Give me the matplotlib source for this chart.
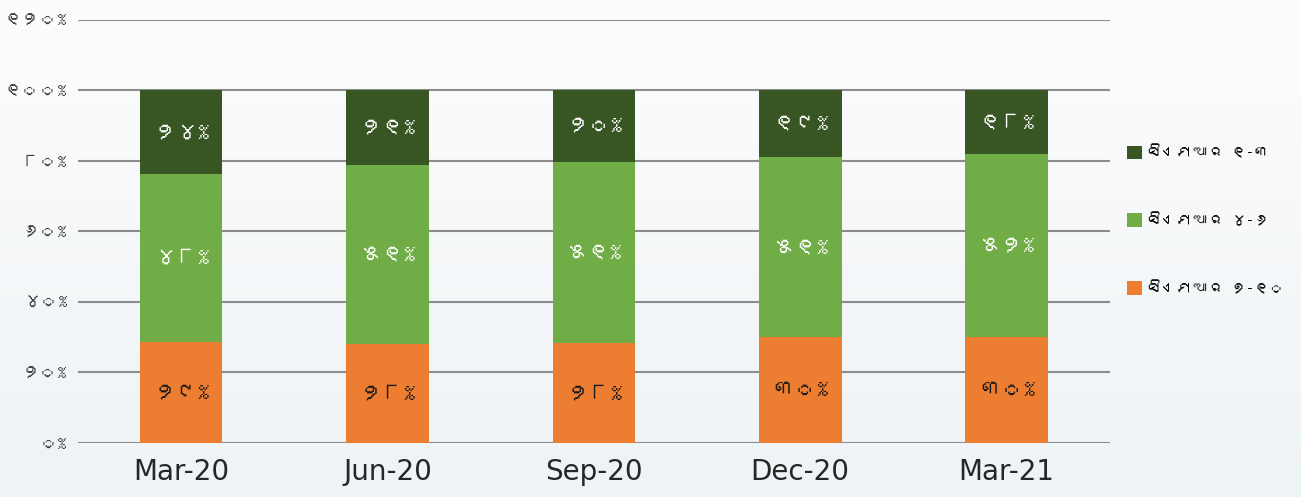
import matplotlib
matplotlib.use("Agg")
import matplotlib.pyplot as plt
import numpy as np
from matplotlib import font_manager
from matplotlib.ft2font import FT2Font
from matplotlib.patches import Patch

months = ['Mar-20', 'Jun-20', 'Sep-20', 'Dec-20', 'Mar-21']
cmr_1_3 = [24, 21, 20, 19, 18]
cmr_4_6 = [48, 51, 51, 51, 52]
cmr_7_10 = [29, 28, 28, 30, 30]
y_ticks = [0, 20, 40, 60, 80, 100, 120]
legend_labels = ['ସିଏମଆର ୧-୩', 'ସିଏମଆର ୪-୬', 'ସିଏମଆର ୭-୧୦']

colors = ['#375623', '#70ad47', '#ed7d31']


def odia(n):
    """writes a number with odia digits"""
    return str(n).translate(str.maketrans('0123456789', '୦୧୨୩୪୫୬୭୮୯'))


def find_font(ch):
    """returns the name of an installed font that has the character, or None"""
    for f in font_manager.fontManager.ttflist:
        try:
            if ord(ch) in FT2Font(f.fname).get_charmap():
                return f.name
        except Exception:
            pass
    return None


odia_font = find_font('ଆ')
families = [odia_font, 'DejaVu Sans'] if odia_font else ['DejaVu Sans']
plt.rcParams['font.family'] = families

fig = plt.figure(figsize=(13.01, 4.97), dpi=100)

# light background gradient
bg = fig.add_axes([0, 0, 1, 1], zorder=-10)
grad = np.linspace(0, 1, 256).reshape(-1, 1)
bg.imshow(grad, aspect='auto', cmap=matplotlib.colors.LinearSegmentedColormap.from_list(
    'bg', ['#fdfdfd', '#eef3f6']), extent=[0, 1, 0, 1])
bg.axis('off')

ax = fig.add_axes([0.060, 0.1087, 0.793, 0.8511])
ax.patch.set_alpha(0)

# bars are scaled so that every month adds up to 100%
stack = np.array([cmr_7_10, cmr_4_6, cmr_1_3], dtype=float)
shares = stack / stack.sum(axis=0) * 100
x = np.arange(len(months))
bottom = np.zeros(len(months))
label_colors = ['#1a1a1a', 'white', 'white']
for i, (row, raw) in enumerate(zip(shares, stack)):
    color = colors[2 - i]
    ax.bar(x, row, bottom=bottom, width=0.4, color=color, zorder=3)
    for xi, b, h, v in zip(x, bottom, row, raw):
        ax.text(xi, b + h / 2, odia(int(v)) + '%', ha='center', va='center',
                color=label_colors[i], fontsize=16, fontweight='bold', zorder=4)
    bottom += row

ax.set_xlim(-0.5, 4.5)
ax.set_ylim(0, 120)
ax.set_yticks(y_ticks)
ax.set_yticklabels([odia(t) + '%' for t in y_ticks], fontsize=13, color='#404040')
ax.set_xticks(x)
ax.set_xticklabels(months, fontsize=20, color='#262626',
                   family=['Liberation Sans Narrow', 'DejaVu Sans'])
ax.tick_params(axis='both', length=0)
ax.tick_params(axis='y', pad=8)
ax.tick_params(axis='x', pad=11)
ax.grid(axis='y', color='#8c8c8c', linewidth=1.5, zorder=0)
ax.set_axisbelow(True)
for spine in ax.spines.values():
    spine.set_visible(False)

handles = [Patch(facecolor=c) for c in colors]
fig.legend(handles, legend_labels, loc='upper left', bbox_to_anchor=(0.866, 0.708),
           frameon=False, fontsize=11, handlelength=1.0, handleheight=1.0,
           handletextpad=0.3, labelspacing=3.5, borderpad=0, borderaxespad=0)

fig.savefig('out.png', dpi=100, facecolor=fig.get_facecolor())
